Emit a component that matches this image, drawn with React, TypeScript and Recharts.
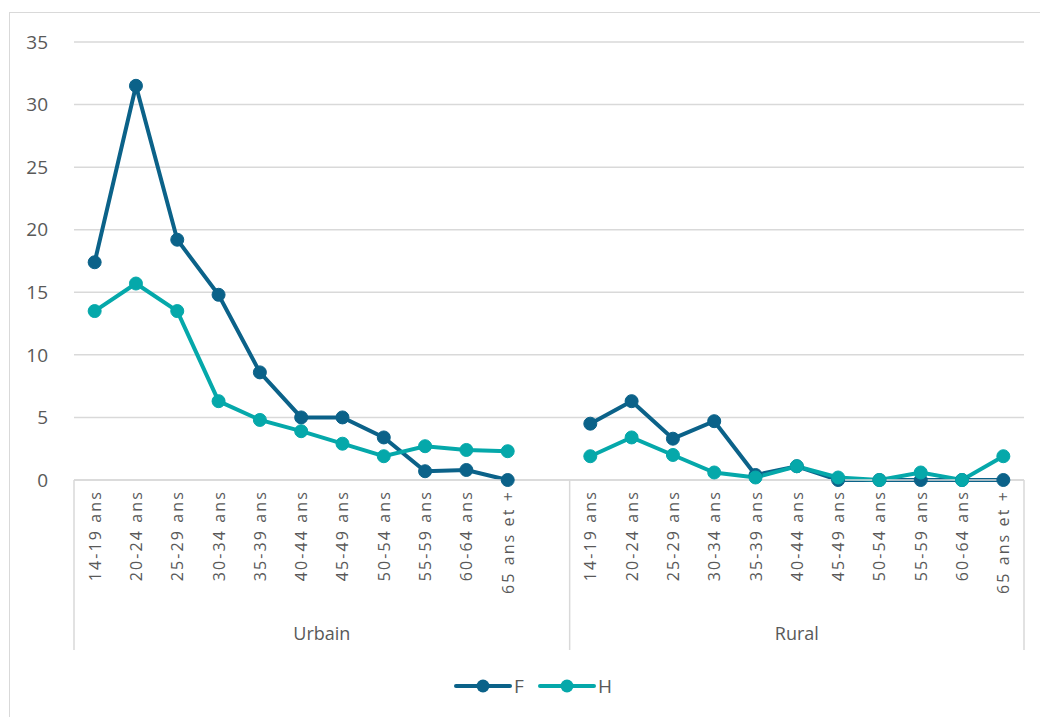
import { LineChart, Line, XAxis, YAxis, CartesianGrid, Legend } from 'recharts';

const ageGroups = [
  '14-19 ans', '20-24 ans', '25-29 ans', '30-34 ans', '35-39 ans', '40-44 ans',
  '45-49 ans', '50-54 ans', '55-59 ans', '60-64 ans', '65 ans et +',
];
const areas = ['Urbain', 'Rural'];

const urbainF = [17.4, 31.5, 19.2, 14.8, 8.6, 5.0, 5.0, 3.4, 0.7, 0.8, 0];
const urbainH = [13.5, 15.7, 13.5, 6.3, 4.8, 3.9, 2.9, 1.9, 2.7, 2.4, 2.3];
const ruralF = [4.5, 6.3, 3.3, 4.7, 0.4, 1.1, 0, 0, 0, 0, 0];
const ruralH = [1.9, 3.4, 2.0, 0.6, 0.2, 1.1, 0.2, 0, 0.6, 0, 1.9];

const yTicks = [0, 5, 10, 15, 20, 25, 30, 35];

const COLOR_F = '#0B6289';
const COLOR_H = '#05A8AA';
const GRID = '#D9D9D9';
const TEXT = '#595959';
const FONT = "'Open Sans', sans-serif";

const W = 1040;
const H = 717;
const MARGIN = { top: 42, right: 16, bottom: 67, left: 0 };
const Y_AXIS_W = 74;
const X_AXIS_H = 170;
const GROUP_LINE_BOTTOM = 650;

interface Row {
  id: string;
  label: string;
  F: number | null;
  H: number | null;
}

// urban block, then an empty slot, then rural block (like the Excel layout)
const rows: Row[] = [
  ...ageGroups.map((a, i) => ({ id: `${areas[0]}|${a}`, label: a, F: urbainF[i], H: urbainH[i] })),
  { id: 'gap', label: '', F: null, H: null },
  ...ageGroups.map((a, i) => ({ id: `${areas[1]}|${a}`, label: a, F: ruralF[i], H: ruralH[i] })),
];

const rowIndex: Record<string, number> = {};
rows.forEach((r, i) => (rowIndex[r.id] = i));

const plotW = W - MARGIN.left - MARGIN.right - Y_AXIS_W;
const band = plotW / rows.length;
const ruralStart = ageGroups.length + 1;

function CategoryTick(props: any) {
  const { x, y, payload } = props;
  const idx = rowIndex[payload.value];
  const row = rows[idx];
  const lineProps = { stroke: GRID, strokeWidth: 1.5 };
  return (
    <g>
      {row && row.label && (
        <text
          transform={`translate(${x},${y + 10}) rotate(-90)`}
          textAnchor="end"
          dominantBaseline="central"
          fontSize={16}
          letterSpacing={2.1}
          fill={TEXT}
          fontFamily={FONT}
        >
          {row.label}
        </text>
      )}
      {(idx === 0 || idx === ruralStart) && (
        <line x1={x - band / 2} x2={x - band / 2} y1={y} y2={GROUP_LINE_BOTTOM} {...lineProps} />
      )}
      {idx === rows.length - 1 && (
        <line x1={x + band / 2} x2={x + band / 2} y1={y} y2={GROUP_LINE_BOTTOM} {...lineProps} />
      )}
      {idx === 5 && (
        <text x={x + band / 2} y={640} textAnchor="middle" fontSize={18} fill={TEXT} fontFamily={FONT}>
          {areas[0]}
        </text>
      )}
      {idx === ruralStart + 5 && (
        <text x={x} y={640} textAnchor="middle" fontSize={18} fill={TEXT} fontFamily={FONT}>
          {areas[1]}
        </text>
      )}
    </g>
  );
}

function LegendContent() {
  const items = [
    { name: 'F', color: COLOR_F },
    { name: 'H', color: COLOR_H },
  ];
  return (
    <div style={{ display: 'flex', justifyContent: 'center', gap: 14, paddingLeft: 26, fontFamily: FONT }}>
      {items.map((it) => (
        <div key={it.name} style={{ display: 'flex', alignItems: 'center' }}>
          <svg width={58} height={16}>
            <line x1={2} x2={56} y1={8} y2={8} stroke={it.color} strokeWidth={4} strokeLinecap="round" />
            <circle cx={29} cy={8} r={6.5} fill={it.color} />
          </svg>
          <span style={{ fontSize: 19, color: TEXT, marginLeft: 2 }}>{it.name}</span>
        </div>
      ))}
    </div>
  );
}

export default function App() {
  return (
    <div style={{ position: 'absolute', left: 0, top: 0, width: W, height: H, background: '#fff' }}>
      <div
        style={{
          position: 'absolute',
          left: 9,
          top: 12,
          right: -2,
          bottom: -2,
          borderLeft: `1.5px solid ${GRID}`,
          borderTop: `1.5px solid ${GRID}`,
        }}
      />
      <LineChart width={W} height={H} data={rows} margin={MARGIN}>
        <CartesianGrid vertical={false} stroke={GRID} strokeWidth={1.5} />
        <XAxis
          dataKey="id"
          scale="band"
          interval={0}
          height={X_AXIS_H}
          tickSize={0}
          tickMargin={0}
          tickLine={false}
          axisLine={{ stroke: GRID, strokeWidth: 1.5 }}
          tick={<CategoryTick />}
        />
        <YAxis
          width={Y_AXIS_W}
          domain={[0, 35]}
          ticks={yTicks}
          axisLine={false}
          tickLine={false}
          tickSize={0}
          tickMargin={26}
          tick={{ fontSize: 19, fill: TEXT, fontFamily: FONT }}
        />
        <Legend
          layout="horizontal"
          verticalAlign="middle"
          align="center"
          wrapperStyle={{ top: 673, left: 0, width: W }}
          content={<LegendContent />}
        />
        <Line
          dataKey="F"
          stroke={COLOR_F}
          strokeWidth={4}
          dot={{ r: 6.5, fill: COLOR_F, stroke: COLOR_F, strokeWidth: 1 }}
          isAnimationActive={false}
        />
        <Line
          dataKey="H"
          stroke={COLOR_H}
          strokeWidth={4}
          dot={{ r: 6.5, fill: COLOR_H, stroke: COLOR_H, strokeWidth: 1 }}
          isAnimationActive={false}
        />
      </LineChart>
    </div>
  );
}
